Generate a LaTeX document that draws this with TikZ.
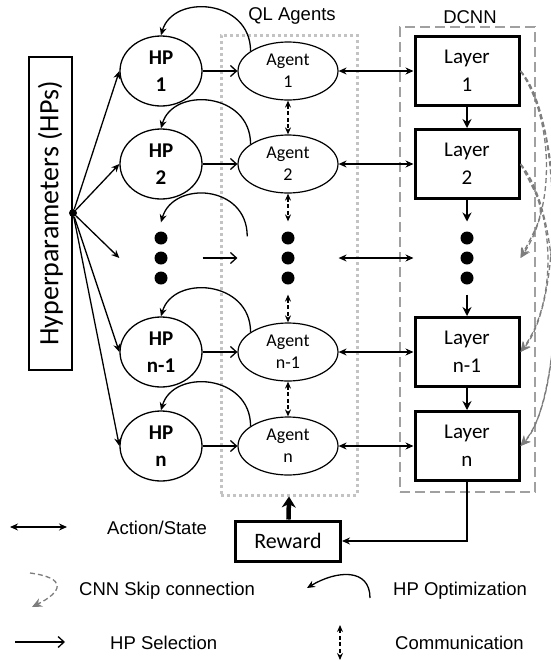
\documentclass[tikz,border=0pt]{standalone}
\usepackage{fontspec}
\setmainfont{Carlito}
\newfontfamily\arialfont{Liberation Sans}
\usetikzlibrary{arrows.meta,positioning,shapes.geometric}
\definecolor{ink}{RGB}{0,0,0}
\definecolor{fog}{RGB}{195,195,195}
\definecolor{ash}{RGB}{160,160,160}
\definecolor{smoke}{RGB}{125,125,125}
\tikzset{
  >={Stealth[length=8pt,width=7pt]},
  hpbox/.style={draw=ink,line width=1.3pt,rotate=90,minimum width=313pt,minimum height=43pt,
    inner sep=0pt,font=\fontsize{28}{30}\selectfont},
  hubdot/.style={circle,fill=ink,inner sep=0pt,minimum size=8pt},
  hp/.style={ellipse,draw=ink,line width=1.3pt,minimum width=82pt,minimum height=70pt,
    inner sep=0pt,align=center,font=\fontsize{21}{27}\selectfont\bfseries},
  agent/.style={ellipse,draw=ink,line width=1.2pt,minimum width=100pt,minimum height=58pt,
    inner sep=0pt,align=center,font=\fontsize{18}{22}\selectfont},
  layer/.style={draw=ink,line width=3pt,minimum width=104pt,minimum height=69pt,
    inner sep=0pt,align=center,font=\fontsize{21}{28}\selectfont},
  reward/.style={draw=ink,line width=3pt,minimum width=105pt,minimum height=40pt,
    inner sep=0pt,font=\fontsize{22}{26}\selectfont},
  qlbox/.style={draw=fog,line width=3pt,dash pattern=on 3pt off 3pt,minimum width=136pt,minimum height=460pt},
  cnnbox/.style={draw=ash,line width=1.4pt,dash pattern=on 10pt off 5pt,minimum width=135pt,minimum height=465pt},
  title/.style={font=\arialfont\fontsize{18.5}{22}\selectfont},
  key/.style={anchor=west,inner sep=0pt,font=\arialfont\fontsize{18.5}{22}\selectfont},
  pick/.style={-{Straight Barb[length=6pt,width=11pt]},line width=1.3pt},
  fan/.style={->,line width=1.3pt},
  act/.style={<->,line width=1.3pt},
  talk/.style={{Stealth[length=7pt,width=6pt]}-{Stealth[length=7pt,width=6pt]},line width=1.3pt,dash pattern=on 4pt off 2.5pt},
  feed/.style={-{Stealth[length=9pt,width=9pt]},line width=2.2pt},
  boost/.style={-{Stealth[length=11pt,width=14pt]},line width=4.5pt},
  tune/.style={->,line width=1.3pt},
  skipc/.style={-{Stealth[length=10pt,width=9pt]},draw=smoke,line width=1.3pt,dash pattern=on 5pt off 3pt},
}
\begin{document}
\begin{tikzpicture}[x=1pt,y=-1pt]
  \useasboundingbox (0,0) rectangle (551,662);
  \node[qlbox] (ql) at (289,265) {};
  \node[cnnbox] (cnn) at (467.5,259.5) {};
  \node[title] (qlt) at (292,16) {QL Agents};
  \node[title] (cnnt) at (470,17) {DCNN};
  \node[hpbox] (hps) at (50.5,213.5) {Hyperparameters (HPs)};
  \node[hubdot] (hub) at (73,213) {};
  \foreach \i/\y/\t in {1/71/1,2/164/2,m/352/n-1,n/446/n}{
    \node[hp] (hp\i) at (161,\y) {HP\\\t};
    \node[agent] (ag\i) at (288,\y) {Agent\\\t};
    \node[layer] (ly\i) at (467,\y) {Layer\\\t};
  }
  \node[hp,draw=none] (hpd) at (161,258) {};
  \node[agent,draw=none,minimum height=72pt] (agd) at (288,258) {};
  \node[layer,draw=none,minimum height=70pt] (lyd) at (467,258) {};
  \foreach \n in {hpd,agd,lyd}
    \foreach \dy in {-20,0,20} \fill[ink] ([yshift=\dy pt]\n.center) circle (6.5pt);
  \node[reward] (rew) at (288,541) {Reward};
  \foreach \i in {1,2,d,m,n}{
    \draw[fan] (hub) -- (hp\i.west);
    \draw[pick] (hp\i) -- (ag\i);
    \draw[act] (ag\i) -- (ly\i);
    \draw[tune] (ag\i.152) .. controls +(0,-52) and +(12,-42) .. (hp\i.north);
  }
  \foreach \a/\b in {1/2,2/d,d/m,m/n}{
    \draw[talk] (ag\a) -- (ag\b);
    \draw[feed] (ly\a) -- (ly\b);
  }
  \foreach \a/\b/\r in {1/d/34,1/m/42,1/n/48,2/d/26,2/m/36,2/n/44}
    \draw[skipc] (ly\a.east) .. controls +(\r,50) and +(\r,-50) .. (ly\b.east);
  \draw[boost] (rew) -- (ql.south);
  \draw[->,line width=1.3pt] (lyn.south) |- (rew.east);
  % legend
  \coordinate (k1a) at (10,527); \coordinate (k1b) at (67,527);
  \draw[act] (k1a) -- (k1b);
  \node[key] (t1) at (107,528) {Action/State};
  \coordinate (k2a) at (30,573); \coordinate (k2b) at (32,607);
  \draw[skipc] (k2a) .. controls +(38,5) and +(30,-15) .. (k2b);
  \node[key] (t2) at (79,591) {CNN Skip connection};
  \coordinate (k3a) at (15,642); \coordinate (k3b) at (65,642);
  \draw[pick] (k3a) -- (k3b);
  \node[key] (t3) at (110,643) {HP Selection};
  \coordinate (k4a) at (370,598); \coordinate (k4b) at (307,588);
  \draw[tune] (k4a) .. controls +(0,-30) and +(30,-18) .. (k4b);
  \node[key] (t4) at (393,591) {HP Optimization};
  \coordinate (k5a) at (340,625); \coordinate (k5b) at (340,660);
  \draw[talk] (k5a) -- (k5b);
  \node[key] (t5) at (395,643) {Communication};
\end{tikzpicture}
\end{document}
